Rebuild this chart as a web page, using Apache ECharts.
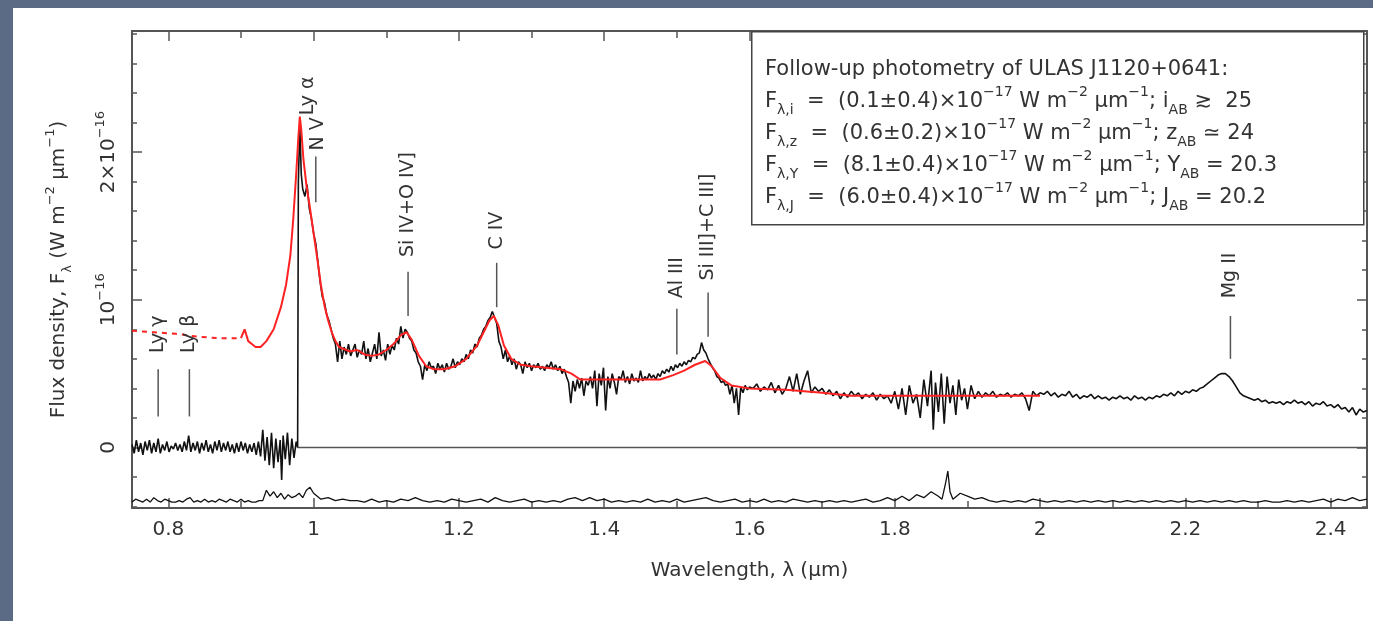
<!DOCTYPE html>
<html>
<head>
<meta charset="utf-8">
<title>ULAS J1120+0641 spectrum</title>
<script src="https://cdn.jsdelivr.net/npm/echarts@6/dist/echarts.min.js"></script>
<style>
  html, body { margin: 0; padding: 0; background: #5b6a85; width: 1373px; height: 621px; overflow: hidden; }
  #chart { position: absolute; left: 13px; top: 8px; width: 1360px; height: 613px; background: #fff; }
</style>
</head>
<body>
<div id="chart"></div>
<script>
// axis ticks (wavelength in um, flux in units of 1e-16 W m^-2 um^-1)
const xMajorTicks = [0.8, 1.0, 1.2, 1.4, 1.6, 1.8, 2.0, 2.2, 2.4]
const xMinorTicks = [0.8, 0.9, 1.0, 1.1, 1.2, 1.3, 1.4, 1.5, 1.6, 1.7, 1.8, 1.9, 2.0, 2.1, 2.2, 2.3, 2.4]
const yMajorTicks = [0, 1, 2]
const yMinorTicks = [-0.4, -0.2, 0.2, 0.4, 0.6, 0.8, 1.2, 1.4, 1.6, 1.8, 2.2, 2.4, 2.6, 2.8]

// observed spectrum: blueward of Ly alpha (Gunn-Peterson trough)
const obsTrough = [
  [0.750, 0.02], [0.753, -0.04], [0.756, 0.05], [0.759, -0.03], [0.762, 0.03], [0.765, -0.05], [0.768, 0.04],
  [0.771, -0.02], [0.774, 0.05], [0.777, -0.04], [0.780, 0.03], [0.783, -0.03], [0.786, 0.06], [0.789, -0.04],
  [0.792, 0.02], [0.795, -0.02], [0.798, 0.04], [0.801, -0.03], [0.804, 0.01], [0.807, -0.01], [0.810, 0.03],
  [0.813, -0.02], [0.816, 0.02], [0.819, -0.03], [0.822, 0.04], [0.825, -0.02], [0.828, 0.08], [0.831, -0.03],
  [0.834, 0.03], [0.837, -0.02], [0.840, 0.04], [0.843, -0.04], [0.846, 0.03], [0.849, -0.02], [0.852, 0.05],
  [0.855, -0.03], [0.858, 0.02], [0.861, -0.04], [0.864, 0.04], [0.867, -0.02], [0.870, 0.05], [0.873, -0.03],
  [0.876, 0.03], [0.879, -0.02], [0.882, 0.04], [0.885, -0.03], [0.888, 0.02], [0.891, -0.04], [0.894, 0.03],
  [0.897, -0.03], [0.900, 0.04], [0.903, -0.02], [0.906, 0.03], [0.909, -0.04], [0.912, 0.02], [0.915, -0.03],
  [0.918, 0.03], [0.921, -0.05], [0.924, 0.04], [0.927, -0.06], [0.930, 0.12], [0.933, -0.09], [0.936, 0.07],
  [0.939, -0.12], [0.942, 0.10], [0.945, -0.14], [0.948, 0.06], [0.951, -0.10], [0.954, 0.05], [0.956, -0.22],
  [0.958, 0.08], [0.961, -0.08], [0.964, 0.10], [0.967, -0.12], [0.970, 0.06], [0.973, -0.07], [0.976, 0.04],
  [0.978, 0.00]
]

// observed spectrum: Ly alpha to 1.6 um
const obsMid = [
  [0.979, 1.80], [0.981, 2.18], [0.983, 1.85], [0.985, 1.75], [0.988, 1.70], [0.991, 1.78], [0.994, 1.62],
  [0.997, 1.55], [1.000, 1.45], [1.003, 1.38], [1.006, 1.25], [1.009, 1.12], [1.012, 1.02], [1.015, 0.98],
  [1.018, 0.90], [1.021, 0.86], [1.024, 0.80], [1.027, 0.74], [1.030, 0.70], [1.033, 0.58], [1.036, 0.72],
  [1.039, 0.60], [1.042, 0.68], [1.045, 0.63], [1.048, 0.70], [1.051, 0.62], [1.054, 0.66], [1.057, 0.70],
  [1.060, 0.61], [1.063, 0.66], [1.066, 0.63], [1.069, 0.72], [1.072, 0.60], [1.075, 0.67], [1.078, 0.58],
  [1.081, 0.64], [1.084, 0.70], [1.087, 0.60], [1.090, 0.78], [1.093, 0.62], [1.096, 0.66], [1.099, 0.59],
  [1.102, 0.70], [1.105, 0.63], [1.108, 0.69], [1.111, 0.66], [1.114, 0.74], [1.117, 0.70], [1.120, 0.82],
  [1.123, 0.74], [1.126, 0.80], [1.129, 0.78], [1.132, 0.74], [1.135, 0.72], [1.138, 0.66], [1.141, 0.64],
  [1.144, 0.58], [1.147, 0.55], [1.150, 0.46], [1.153, 0.56], [1.156, 0.52], [1.159, 0.58], [1.162, 0.54],
  [1.165, 0.55], [1.168, 0.50], [1.171, 0.57], [1.174, 0.53], [1.177, 0.56], [1.180, 0.51], [1.183, 0.57],
  [1.186, 0.53], [1.189, 0.55], [1.192, 0.60], [1.195, 0.54], [1.198, 0.58], [1.201, 0.56], [1.204, 0.60],
  [1.207, 0.58], [1.210, 0.63], [1.213, 0.60], [1.216, 0.66], [1.219, 0.64], [1.222, 0.70], [1.225, 0.68],
  [1.228, 0.74], [1.231, 0.76], [1.234, 0.80], [1.237, 0.82], [1.240, 0.86], [1.243, 0.88], [1.246, 0.92],
  [1.249, 0.88], [1.252, 0.84], [1.255, 0.72], [1.258, 0.68], [1.261, 0.60], [1.264, 0.66], [1.267, 0.58],
  [1.270, 0.62], [1.273, 0.56], [1.276, 0.60], [1.279, 0.53], [1.282, 0.58], [1.285, 0.56], [1.288, 0.50],
  [1.291, 0.58], [1.294, 0.54], [1.297, 0.57], [1.300, 0.52], [1.303, 0.56], [1.306, 0.54], [1.309, 0.57],
  [1.312, 0.53], [1.315, 0.55], [1.318, 0.52], [1.321, 0.56], [1.324, 0.54], [1.327, 0.58], [1.330, 0.53],
  [1.333, 0.56], [1.336, 0.52], [1.339, 0.55], [1.342, 0.50], [1.345, 0.53], [1.348, 0.48], [1.351, 0.44],
  [1.354, 0.30], [1.357, 0.45], [1.360, 0.38], [1.363, 0.46], [1.366, 0.40], [1.369, 0.47], [1.372, 0.35],
  [1.375, 0.45], [1.378, 0.42], [1.381, 0.48], [1.384, 0.40], [1.387, 0.52], [1.390, 0.28], [1.393, 0.50],
  [1.396, 0.42], [1.399, 0.54], [1.402, 0.25], [1.405, 0.48], [1.408, 0.40], [1.411, 0.50], [1.414, 0.44],
  [1.417, 0.36], [1.420, 0.48], [1.423, 0.46], [1.426, 0.52], [1.429, 0.44], [1.432, 0.48], [1.435, 0.43],
  [1.438, 0.50], [1.441, 0.45], [1.444, 0.47], [1.447, 0.44], [1.450, 0.52], [1.453, 0.45], [1.456, 0.48],
  [1.459, 0.46], [1.462, 0.50], [1.465, 0.47], [1.468, 0.49], [1.471, 0.46], [1.474, 0.50], [1.477, 0.48],
  [1.480, 0.52], [1.483, 0.50], [1.486, 0.53], [1.489, 0.51], [1.492, 0.55], [1.495, 0.52], [1.498, 0.56],
  [1.501, 0.54], [1.504, 0.57], [1.507, 0.55], [1.510, 0.58], [1.513, 0.56], [1.516, 0.59], [1.519, 0.58],
  [1.522, 0.61], [1.525, 0.60], [1.528, 0.63], [1.531, 0.64], [1.534, 0.71], [1.537, 0.66], [1.540, 0.64],
  [1.543, 0.60], [1.546, 0.57], [1.549, 0.54], [1.552, 0.52], [1.555, 0.48], [1.558, 0.47], [1.561, 0.44],
  [1.564, 0.45], [1.567, 0.42], [1.570, 0.43], [1.573, 0.36], [1.576, 0.42], [1.579, 0.30], [1.582, 0.40],
  [1.585, 0.22], [1.588, 0.41], [1.591, 0.37], [1.594, 0.42], [1.597, 0.39], [1.600, 0.41]
]

// observed spectrum: 1.6 um to the red end
const obsLong = [
  [1.605, 0.40], [1.610, 0.43], [1.615, 0.38], [1.620, 0.41], [1.625, 0.39], [1.630, 0.44], [1.635, 0.37],
  [1.640, 0.42], [1.645, 0.36], [1.650, 0.40], [1.655, 0.48], [1.660, 0.38], [1.665, 0.50], [1.670, 0.36],
  [1.675, 0.45], [1.680, 0.52], [1.685, 0.37], [1.690, 0.41], [1.695, 0.38], [1.700, 0.40], [1.705, 0.36],
  [1.710, 0.39], [1.715, 0.35], [1.720, 0.38], [1.725, 0.33], [1.730, 0.37], [1.735, 0.34], [1.740, 0.38],
  [1.745, 0.35], [1.750, 0.37], [1.755, 0.33], [1.760, 0.36], [1.765, 0.34], [1.770, 0.37], [1.775, 0.32],
  [1.780, 0.36], [1.785, 0.33], [1.790, 0.35], [1.795, 0.30], [1.800, 0.38], [1.805, 0.26], [1.810, 0.40],
  [1.815, 0.22], [1.820, 0.42], [1.825, 0.30], [1.830, 0.36], [1.835, 0.20], [1.840, 0.46], [1.845, 0.28],
  [1.850, 0.52], [1.853, 0.12], [1.856, 0.44], [1.860, 0.24], [1.864, 0.50], [1.868, 0.16], [1.872, 0.48],
  [1.876, 0.30], [1.880, 0.42], [1.884, 0.22], [1.888, 0.46], [1.892, 0.32], [1.896, 0.40], [1.900, 0.26],
  [1.905, 0.42], [1.910, 0.33], [1.915, 0.38], [1.920, 0.34], [1.925, 0.37], [1.930, 0.35], [1.935, 0.38],
  [1.940, 0.34], [1.945, 0.36], [1.950, 0.35], [1.955, 0.37], [1.960, 0.34], [1.965, 0.36], [1.970, 0.35],
  [1.975, 0.37], [1.980, 0.33], [1.985, 0.25], [1.990, 0.38], [1.995, 0.35], [2.000, 0.37], [2.005, 0.36],
  [2.010, 0.38], [2.015, 0.35], [2.020, 0.37], [2.025, 0.34], [2.030, 0.36], [2.035, 0.35], [2.040, 0.38],
  [2.045, 0.34], [2.050, 0.36], [2.055, 0.33], [2.060, 0.35], [2.065, 0.34], [2.070, 0.36], [2.075, 0.33],
  [2.080, 0.35], [2.085, 0.33], [2.090, 0.34], [2.095, 0.32], [2.100, 0.34], [2.105, 0.33], [2.110, 0.35],
  [2.115, 0.33], [2.120, 0.34], [2.125, 0.32], [2.130, 0.35], [2.135, 0.33], [2.140, 0.34], [2.145, 0.32],
  [2.150, 0.34], [2.155, 0.33], [2.160, 0.35], [2.165, 0.34], [2.170, 0.36], [2.175, 0.35], [2.180, 0.37],
  [2.185, 0.35], [2.190, 0.38], [2.195, 0.36], [2.200, 0.38], [2.205, 0.37], [2.210, 0.39], [2.215, 0.38],
  [2.220, 0.40], [2.225, 0.41], [2.230, 0.43], [2.235, 0.45], [2.240, 0.47], [2.245, 0.49], [2.250, 0.50],
  [2.255, 0.50], [2.260, 0.48], [2.265, 0.45], [2.270, 0.41], [2.275, 0.37], [2.280, 0.35], [2.285, 0.34],
  [2.290, 0.33], [2.295, 0.32], [2.300, 0.33], [2.305, 0.31], [2.310, 0.32], [2.315, 0.30], [2.320, 0.31],
  [2.325, 0.30], [2.330, 0.31], [2.335, 0.29], [2.340, 0.31], [2.345, 0.30], [2.350, 0.32], [2.355, 0.30],
  [2.360, 0.31], [2.365, 0.29], [2.370, 0.31], [2.375, 0.28], [2.380, 0.30], [2.385, 0.29], [2.390, 0.31],
  [2.395, 0.28], [2.400, 0.29], [2.405, 0.27], [2.410, 0.29], [2.415, 0.26], [2.420, 0.27], [2.425, 0.24],
  [2.430, 0.27], [2.435, 0.22], [2.440, 0.26], [2.445, 0.24], [2.450, 0.25]
]

// composite quasar model (red): extrapolated part is dashed
const modelDashed = [[0.750, 0.79], [0.780, 0.78], [0.810, 0.77], [0.840, 0.75], [0.870, 0.74], [0.900, 0.74]]
const modelSolid = [
  [0.900, 0.74], [0.905, 0.80], [0.910, 0.72], [0.915, 0.70], [0.920, 0.68], [0.927, 0.68], [0.935, 0.72],
  [0.945, 0.80], [0.955, 0.95], [0.962, 1.10], [0.968, 1.30], [0.972, 1.55], [0.976, 1.85], [0.979, 2.10],
  [0.981, 2.24], [0.983, 2.15], [0.986, 1.95], [0.990, 1.78], [0.995, 1.62], [1.000, 1.45], [1.005, 1.28],
  [1.010, 1.10], [1.015, 0.96], [1.020, 0.86], [1.025, 0.78], [1.030, 0.72], [1.035, 0.68], [1.040, 0.67],
  [1.050, 0.65], [1.060, 0.66], [1.070, 0.63], [1.080, 0.62], [1.090, 0.63], [1.100, 0.66], [1.110, 0.70],
  [1.120, 0.76], [1.128, 0.78], [1.135, 0.73], [1.145, 0.62], [1.155, 0.55], [1.165, 0.53], [1.180, 0.53],
  [1.195, 0.55], [1.210, 0.60], [1.225, 0.69], [1.235, 0.79], [1.242, 0.86], [1.248, 0.89], [1.254, 0.83],
  [1.262, 0.69], [1.272, 0.60], [1.285, 0.56], [1.300, 0.55], [1.320, 0.54], [1.340, 0.53], [1.355, 0.50],
  [1.367, 0.46], [1.390, 0.46], [1.420, 0.46], [1.450, 0.46], [1.477, 0.46], [1.495, 0.49], [1.510, 0.52],
  [1.525, 0.56], [1.539, 0.585], [1.548, 0.55], [1.560, 0.47], [1.575, 0.42], [1.600, 0.40], [1.650, 0.39],
  [1.700, 0.37], [1.740, 0.35], [1.800, 0.35], [1.860, 0.35], [1.920, 0.35], [2.000, 0.35]
]

// 1-sigma noise spectrum, drawn offset below zero
const noiseSpec = [
  [0.750, -0.37], [0.755, -0.35], [0.760, -0.36], [0.765, -0.37], [0.770, -0.35], [0.775, -0.37], [0.780, -0.34],
  [0.785, -0.36], [0.790, -0.37], [0.795, -0.35], [0.800, -0.36], [0.805, -0.37], [0.810, -0.37], [0.815, -0.36],
  [0.820, -0.37], [0.825, -0.35], [0.830, -0.34], [0.835, -0.37], [0.840, -0.36], [0.845, -0.37], [0.850, -0.35],
  [0.855, -0.37], [0.860, -0.36], [0.865, -0.37], [0.870, -0.35], [0.875, -0.36], [0.880, -0.37], [0.885, -0.35],
  [0.890, -0.36], [0.895, -0.37], [0.900, -0.35], [0.905, -0.37], [0.910, -0.36], [0.915, -0.37], [0.920, -0.37],
  [0.925, -0.36], [0.930, -0.36], [0.935, -0.29], [0.94, -0.33],
  [0.945, -0.30], [0.95, -0.34], [0.955, -0.31], [0.96, -0.35], [0.965, -0.32], [0.97, -0.34], [0.975, -0.33],
  [0.98, -0.31], [0.985, -0.34], [0.99, -0.29], [0.995, -0.27], [1.00, -0.31], [1.005, -0.33], [1.01, -0.35],
  [1.02, -0.34], [1.03, -0.36], [1.04, -0.35], [1.05, -0.36], [1.06, -0.36], [1.07, -0.37], [1.08, -0.35],
  [1.09, -0.37], [1.10, -0.36], [1.11, -0.37], [1.12, -0.35], [1.13, -0.36], [1.14, -0.34], [1.15, -0.36],
  [1.16, -0.37], [1.17, -0.36], [1.18, -0.37], [1.19, -0.35], [1.20, -0.36], [1.21, -0.37], [1.22, -0.36],
  [1.23, -0.35], [1.24, -0.37], [1.25, -0.34], [1.26, -0.36], [1.27, -0.37], [1.28, -0.36], [1.29, -0.35],
  [1.30, -0.37], [1.31, -0.36], [1.32, -0.37], [1.33, -0.36], [1.34, -0.37], [1.35, -0.35], [1.36, -0.34],
  [1.37, -0.36], [1.38, -0.34], [1.39, -0.36], [1.40, -0.35], [1.41, -0.37], [1.42, -0.36], [1.43, -0.37],
  [1.44, -0.36], [1.45, -0.37], [1.46, -0.35], [1.47, -0.37], [1.48, -0.36], [1.49, -0.37], [1.50, -0.35],
  [1.51, -0.37], [1.52, -0.36], [1.53, -0.35], [1.54, -0.34], [1.55, -0.36], [1.56, -0.37], [1.57, -0.36],
  [1.58, -0.35], [1.59, -0.37], [1.60, -0.36], [1.61, -0.37], [1.62, -0.35], [1.63, -0.37], [1.64, -0.36],
  [1.65, -0.37], [1.66, -0.35], [1.67, -0.36], [1.68, -0.37], [1.69, -0.36], [1.70, -0.37], [1.71, -0.36],
  [1.72, -0.37], [1.73, -0.36], [1.74, -0.37], [1.75, -0.36], [1.76, -0.35], [1.77, -0.37], [1.78, -0.36],
  [1.79, -0.34], [1.80, -0.36], [1.81, -0.33], [1.82, -0.36], [1.83, -0.32], [1.84, -0.34], [1.85, -0.30],
  [1.86, -0.33], [1.865, -0.35], [1.87, -0.24], [1.873, -0.16], [1.876, -0.30], [1.88, -0.35], [1.89, -0.31],
  [1.90, -0.33], [1.91, -0.35], [1.92, -0.34], [1.93, -0.36], [1.94, -0.37], [1.95, -0.36], [1.96, -0.37],
  [1.97, -0.36], [1.98, -0.37], [1.99, -0.35], [2.00, -0.36], [2.01, -0.37], [2.02, -0.36], [2.03, -0.37],
  [2.04, -0.36], [2.05, -0.37], [2.06, -0.36], [2.07, -0.37], [2.08, -0.36], [2.09, -0.37], [2.10, -0.36],
  [2.11, -0.37], [2.12, -0.36], [2.13, -0.37], [2.14, -0.36], [2.15, -0.37], [2.16, -0.36], [2.17, -0.37],
  [2.18, -0.36], [2.19, -0.37], [2.20, -0.36], [2.21, -0.37], [2.22, -0.36], [2.23, -0.37], [2.24, -0.36],
  [2.25, -0.37], [2.26, -0.36], [2.27, -0.37], [2.28, -0.36], [2.29, -0.37], [2.30, -0.37], [2.31, -0.36],
  [2.32, -0.37], [2.33, -0.37], [2.34, -0.36], [2.35, -0.37], [2.36, -0.36], [2.37, -0.37], [2.38, -0.36],
  [2.39, -0.35], [2.40, -0.37], [2.41, -0.35], [2.42, -0.36], [2.43, -0.34], [2.44, -0.36], [2.45, -0.35]
]

const zeroLine = [[0.978, 0], [2.45, 0]]

// emission line identifications
const lineNames = ['Ly γ', 'Ly β', 'Ly α', 'N V', 'Si IV+O IV]', 'C IV', 'Al III', 'Si III]+C III]', 'Mg II']
const lineWaves = [0.786, 0.829, 0.983, 1.003, 1.130, 1.252, 1.500, 1.543, 2.262]
const labelWaves = [0.786, 0.829, 0.993, 1.006, 1.130, 1.252, 1.500, 1.543, 2.262]
const lineLow = [0.21, 0.21, 2.24, 1.66, 0.89, 0.95, 0.63, 0.75, 0.60]
const lineHigh = [0.53, 0.53, 2.24, 1.97, 1.19, 1.25, 0.94, 1.05, 0.89]
const labelBase = [0.64, 0.64, 2.25, 2.01, 1.29, 1.34, 1.01, 1.13, 1.01]

const FONT = '"DejaVu Sans", sans-serif'
const INK = '#333'
const FRAME = '#555'

const chart = echarts.init(document.getElementById('chart'))

const supRich = {
  t: { fontFamily: FONT, fontSize: 20, color: INK, lineHeight: 30, verticalAlign: 'middle' },
  sup: { fontFamily: FONT, fontSize: 13, color: INK, lineHeight: 14, verticalAlign: 'top' },
  sub: { fontFamily: FONT, fontSize: 13, color: INK, lineHeight: 12, verticalAlign: 'bottom' }
}

function tickAxis(pos, isX, ticks, len, showLine) {
  return {
    type: 'value',
    position: pos,
    min: isX ? 0.75 : -0.41,
    max: isX ? 2.45 : 2.82,
    scale: true,
    splitLine: { show: false },
    axisLine: { show: showLine, onZero: false, lineStyle: { color: FRAME, width: 2 } },
    axisTick: { show: true, inside: true, length: len, customValues: ticks, lineStyle: { color: FRAME, width: 1.5 } },
    axisLabel: { show: false }
  }
}

const xBottom = tickAxis('bottom', true, xMajorTicks, 10, true)
xBottom.axisLabel = {
  show: true, customValues: xMajorTicks, margin: 12,
  fontFamily: FONT, fontSize: 20, color: INK,
  formatter: v => String(Math.round(v * 10) / 10)
}
xBottom.name = 'Wavelength, λ (µm)'
xBottom.nameLocation = 'middle'
xBottom.nameGap = 53
xBottom.nameTextStyle = { fontFamily: FONT, fontSize: 20, color: INK }

const yLeft = tickAxis('left', false, yMajorTicks, 10, true)
yLeft.axisLabel = {
  show: true, customValues: yMajorTicks, rotate: 90, margin: 8,
  formatter: v => v === 0 ? '{t|0}' : (v === 1 ? '{t|10}{sup|−16}' : '{t|' + v + '×10}{sup|−16}'),
  rich: supRich
}
yLeft.name = '{t|Flux density, F}{sub|λ}{t| (W m}{sup|−2}{t| µm}{sup|−1}{t|)}'
yLeft.nameLocation = 'middle'
yLeft.nameRotate = 90
yLeft.nameGap = 58
yLeft.nameTextStyle = { rich: supRich }

const option = {
  animation: false,
  backgroundColor: '#fff',
  grid: { left: 119, right: 6, top: 23, bottom: 113, containLabel: false },
  xAxis: [
    xBottom,
    tickAxis('bottom', true, xMinorTicks, 7, false),
    tickAxis('top', true, xMajorTicks, 10, true),
    tickAxis('top', true, xMinorTicks, 7, false)
  ],
  yAxis: [
    yLeft,
    tickAxis('left', false, yMinorTicks, 5, false),
    tickAxis('right', false, yMajorTicks, 10, true),
    tickAxis('right', false, yMinorTicks, 5, false)
  ],
  graphic: [
    {
      type: 'rect', left: 738, top: 23, z: 10,
      shape: { width: 612, height: 193 },
      style: { fill: '#fff', stroke: '#444', lineWidth: 1.5 }
    },
    {
      type: 'text', left: 752, top: 51, z: 11,
      style: {
        text: [
          '{t|Follow-up photometry of ULAS J1120+0641:}',
          '{t|F}{sub|λ,i}{t|  =  (0.1±0.4)×10}{sup|−17}{t| W m}{sup|−2}{t| µm}{sup|−1}{t|; i}{sub|AB}{t| ≳  25}',
          '{t|F}{sub|λ,z}{t|  =  (0.6±0.2)×10}{sup|−17}{t| W m}{sup|−2}{t| µm}{sup|−1}{t|; z}{sub|AB}{t| ≃ 24}',
          '{t|F}{sub|λ,Y}{t|  =  (8.1±0.4)×10}{sup|−17}{t| W m}{sup|−2}{t| µm}{sup|−1}{t|; Y}{sub|AB}{t| = 20.3}',
          '{t|F}{sub|λ,J}{t|  =  (6.0±0.4)×10}{sup|−17}{t| W m}{sup|−2}{t| µm}{sup|−1}{t|; J}{sub|AB}{t| = 20.2}'
        ].join('\n'),
        rich: {
          t: { fontFamily: FONT, fontSize: 21, fill: INK, lineHeight: 32, verticalAlign: 'middle' },
          sup: { fontFamily: FONT, fontSize: 14, fill: INK, lineHeight: 14, verticalAlign: 'top' },
          sub: { fontFamily: FONT, fontSize: 14, fill: INK, lineHeight: 12, verticalAlign: 'bottom' }
        }
      }
    }
  ],
  series: [
    {
      name: 'noise', type: 'line', data: noiseSpec, showSymbol: false,
      lineStyle: { color: '#111', width: 1.3 }
    },
    {
      name: 'zero', type: 'line', data: zeroLine, showSymbol: false,
      lineStyle: { color: '#555', width: 1.5 }
    },
    {
      name: 'observed', type: 'line', data: obsTrough.concat(obsMid, obsLong), showSymbol: false,
      lineStyle: { color: '#111', width: 1.6 }
    },
    {
      name: 'model extrapolated', type: 'line', data: modelDashed, showSymbol: false,
      lineStyle: { color: '#f22', width: 2, type: [5, 5] }
    },
    {
      name: 'model', type: 'line', data: modelSolid, showSymbol: false,
      lineStyle: { color: '#f22', width: 2 }
    },
    {
      name: 'lines', type: 'custom',
      data: lineNames.map((n, i) => [lineWaves[i], lineLow[i], lineHigh[i], labelBase[i], labelWaves[i], i]),
      renderItem(params, api) {
        const i = api.value(5)
        const p0 = api.coord([api.value(0), api.value(1)])
        const p1 = api.coord([api.value(0), api.value(2)])
        const pl = api.coord([api.value(4), api.value(3)])
        const children = []
        if (api.value(2) > api.value(1)) {
          children.push({
            type: 'line',
            shape: { x1: p0[0], y1: p0[1], x2: p1[0], y2: p1[1] },
            style: { stroke: '#555', lineWidth: 1.5 }
          })
        }
        children.push({
          type: 'text', x: pl[0], y: pl[1], rotation: Math.PI / 2,
          style: {
            text: lineNames[i], x: 0, y: 0, align: 'left', verticalAlign: 'middle',
            font: '19px "DejaVu Sans", sans-serif', fill: INK
          }
        })
        return { type: 'group', children }
      },
      z: 5
    }
  ]
}

chart.setOption(option)
</script>
</body>
</html>
